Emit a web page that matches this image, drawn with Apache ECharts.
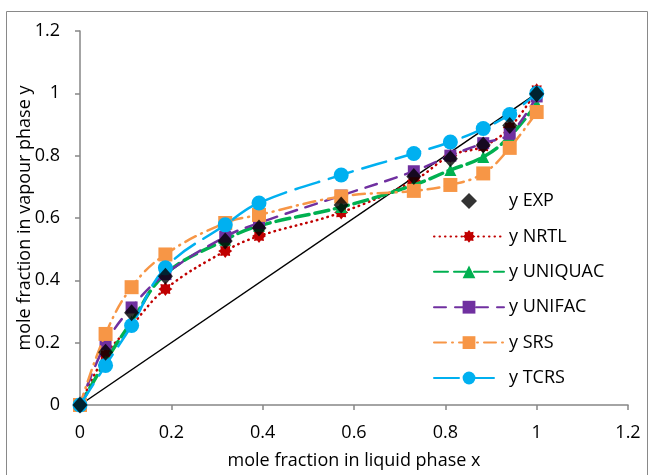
<!DOCTYPE html>
<html>
<head>
<meta charset="utf-8">
<script src="https://cdn.jsdelivr.net/npm/echarts@6/dist/echarts.min.js"></script>
<style>
html,body{margin:0;padding:0;background:#fff;}
#main{width:652px;height:475px;}
</style>
</head>
<body>
<div id="main"></div>
<script>
// Data
const xLiquid = [0, 0.056, 0.113, 0.187, 0.318, 0.392, 0.572, 0.731, 0.811, 0.883, 0.941, 1.0];
const yEXP     = [0, 0.169, 0.296, 0.413, 0.526, 0.568, 0.642, 0.733, 0.790, 0.834, 0.897, 0.998];
const yNRTL    = [0, 0.160, 0.255, 0.372, 0.494, 0.542, 0.618, 0.720, 0.800, 0.830, 0.890, 1.010];
const yUNIQUAC = [0, 0.140, 0.268, 0.420, 0.530, 0.575, 0.635, 0.706, 0.754, 0.796, 0.862, 0.966];
const yUNIFAC  = [0, 0.196, 0.313, 0.420, 0.540, 0.584, 0.672, 0.750, 0.800, 0.840, 0.870, 0.990];
const ySRS     = [0, 0.228, 0.378, 0.483, 0.584, 0.610, 0.669, 0.687, 0.706, 0.743, 0.825, 0.940];
const yTCRS    = [0, 0.127, 0.255, 0.440, 0.578, 0.648, 0.738, 0.807, 0.844, 0.887, 0.932, 1.000];
const diagonal = [0, 1];
const xTicks = [0, 0.2, 0.4, 0.6, 0.8, 1, 1.2];
const yTicks = [0, 0.2, 0.4, 0.6, 0.8, 1, 1.2];

function pairs(xs, ys){ return xs.map((x,i)=>[x, ys[i]]); }

const font = '"Open Sans", "Noto Sans", sans-serif';
const fmt = v => { const r = Math.round(v*10)/10; return String(r); };

const chart = echarts.init(document.getElementById('main'), null, {renderer:'canvas'});
const splat = 'path://M10,5 L8.23,6.34 L8.54,8.54 L6.34,8.23 L5,10 L3.66,8.23 L1.46,8.54 L1.77,6.34 L0,5 L1.77,3.66 L1.46,1.46 L3.66,1.77 L5,0 L6.34,1.77 L8.54,1.46 L8.23,3.66 Z';
const diamondIcon = 'path://M0,5 L5,0 L10,5 L5,10 Z';

chart.setOption({
  animation:false,
  backgroundColor:'#fff',
  textStyle:{fontFamily:font},
  graphic:[{type:'rect', silent:true, z:-10,
    shape:{x:6.5, y:11.5, width:641, height:480},
    style:{fill:'none', stroke:'#898989', lineWidth:1}}],
  grid:{left:80, right:24, top:31, bottom:67, containLabel:false},
  legend:{
    orient:'vertical', left:433, top:192, padding:0,
    itemWidth:70, itemHeight:16, itemGap:17.4, symbolKeepAspect:true,
    textStyle:{fontFamily:font, fontSize:18, lineHeight:18, color:'#000'},
    data:[{name:'y EXP', icon:diamondIcon},'y NRTL','y UNIQUAC','y UNIFAC','y SRS','y TCRS']
  },
  xAxis:{
    type:'value', min:0, max:1.2, interval:0.2,
    name:'mole fraction in liquid phase x', nameLocation:'middle', nameGap:47,
    nameMoveOverlap:false,
    nameTextStyle:{fontFamily:font, fontSize:18, color:'#000'},
    axisLine:{show:true, lineStyle:{color:'#868686', width:1.5}},
    axisTick:{show:true, inside:false, length:5, lineStyle:{color:'#868686', width:1.5}},
    axisLabel:{fontFamily:font, fontSize:18, color:'#000', margin:19, formatter:fmt},
    splitLine:{show:false}
  },
  yAxis:{
    type:'value', min:0, max:1.2, interval:0.2,
    name:'mole fraction in vapour phase y', nameLocation:'middle', nameGap:46,
    nameMoveOverlap:false,
    nameTextStyle:{fontFamily:font, fontSize:18, color:'#000'},
    axisLine:{show:true, lineStyle:{color:'#868686', width:1.5}},
    axisTick:{show:true, inside:false, length:5, lineStyle:{color:'#868686', width:1.5}},
    axisLabel:{fontFamily:font, fontSize:18, color:'#000', margin:20, formatter:fmt},
    splitLine:{show:false}
  },
  series:[
    {name:'diag', type:'line', data:pairs(diagonal, diagonal), symbol:'none',
     lineStyle:{color:'#000', width:1.5}, z:1, silent:true},
    {name:'y NRTL', type:'line', smooth:0.4, data:pairs(xLiquid,yNRTL),
     symbol:splat, symbolSize:14, itemStyle:{color:'#C00000'},
     lineStyle:{color:'#C00000', width:2.5, type:[0.5,5], cap:'round'}, z:2},
    {name:'y UNIQUAC', type:'line', smooth:0.4, data:pairs(xLiquid,yUNIQUAC),
     symbol:'triangle', symbolSize:12, itemStyle:{color:'#00B050'},
     lineStyle:{color:'#00B050', width:3.5, type:[14,6], cap:'round'}, z:3},
    {name:'y UNIFAC', type:'line', smooth:0.4, data:pairs(xLiquid,yUNIFAC),
     symbol:'rect', symbolSize:12, itemStyle:{color:'#7030A0'},
     lineStyle:{color:'#7030A0', width:2.5, type:[12,9], cap:'round'}, z:4},
    {name:'y SRS', type:'line', smooth:0.4, data:pairs(xLiquid,ySRS),
     symbol:'rect', symbolSize:14, itemStyle:{color:'#F79646'},
     lineStyle:{color:'#F79646', width:2.5, type:[12,6,1,6], cap:'round'}, z:5},
    {name:'y TCRS', type:'line', smooth:0.4, data:pairs(xLiquid,yTCRS),
     symbol:'circle', symbolSize:15, itemStyle:{color:'#00B0F0'},
     lineStyle:{color:'#00B0F0', width:2.5, type:[25,10], cap:'round'}, z:6},
    {name:'y EXP', type:'scatter', data:pairs(xLiquid,yEXP),
     symbol:'diamond', symbolSize:[15,17], itemStyle:{color:'#000'}, z:10}
  ]
});
</script>
</body>
</html>
